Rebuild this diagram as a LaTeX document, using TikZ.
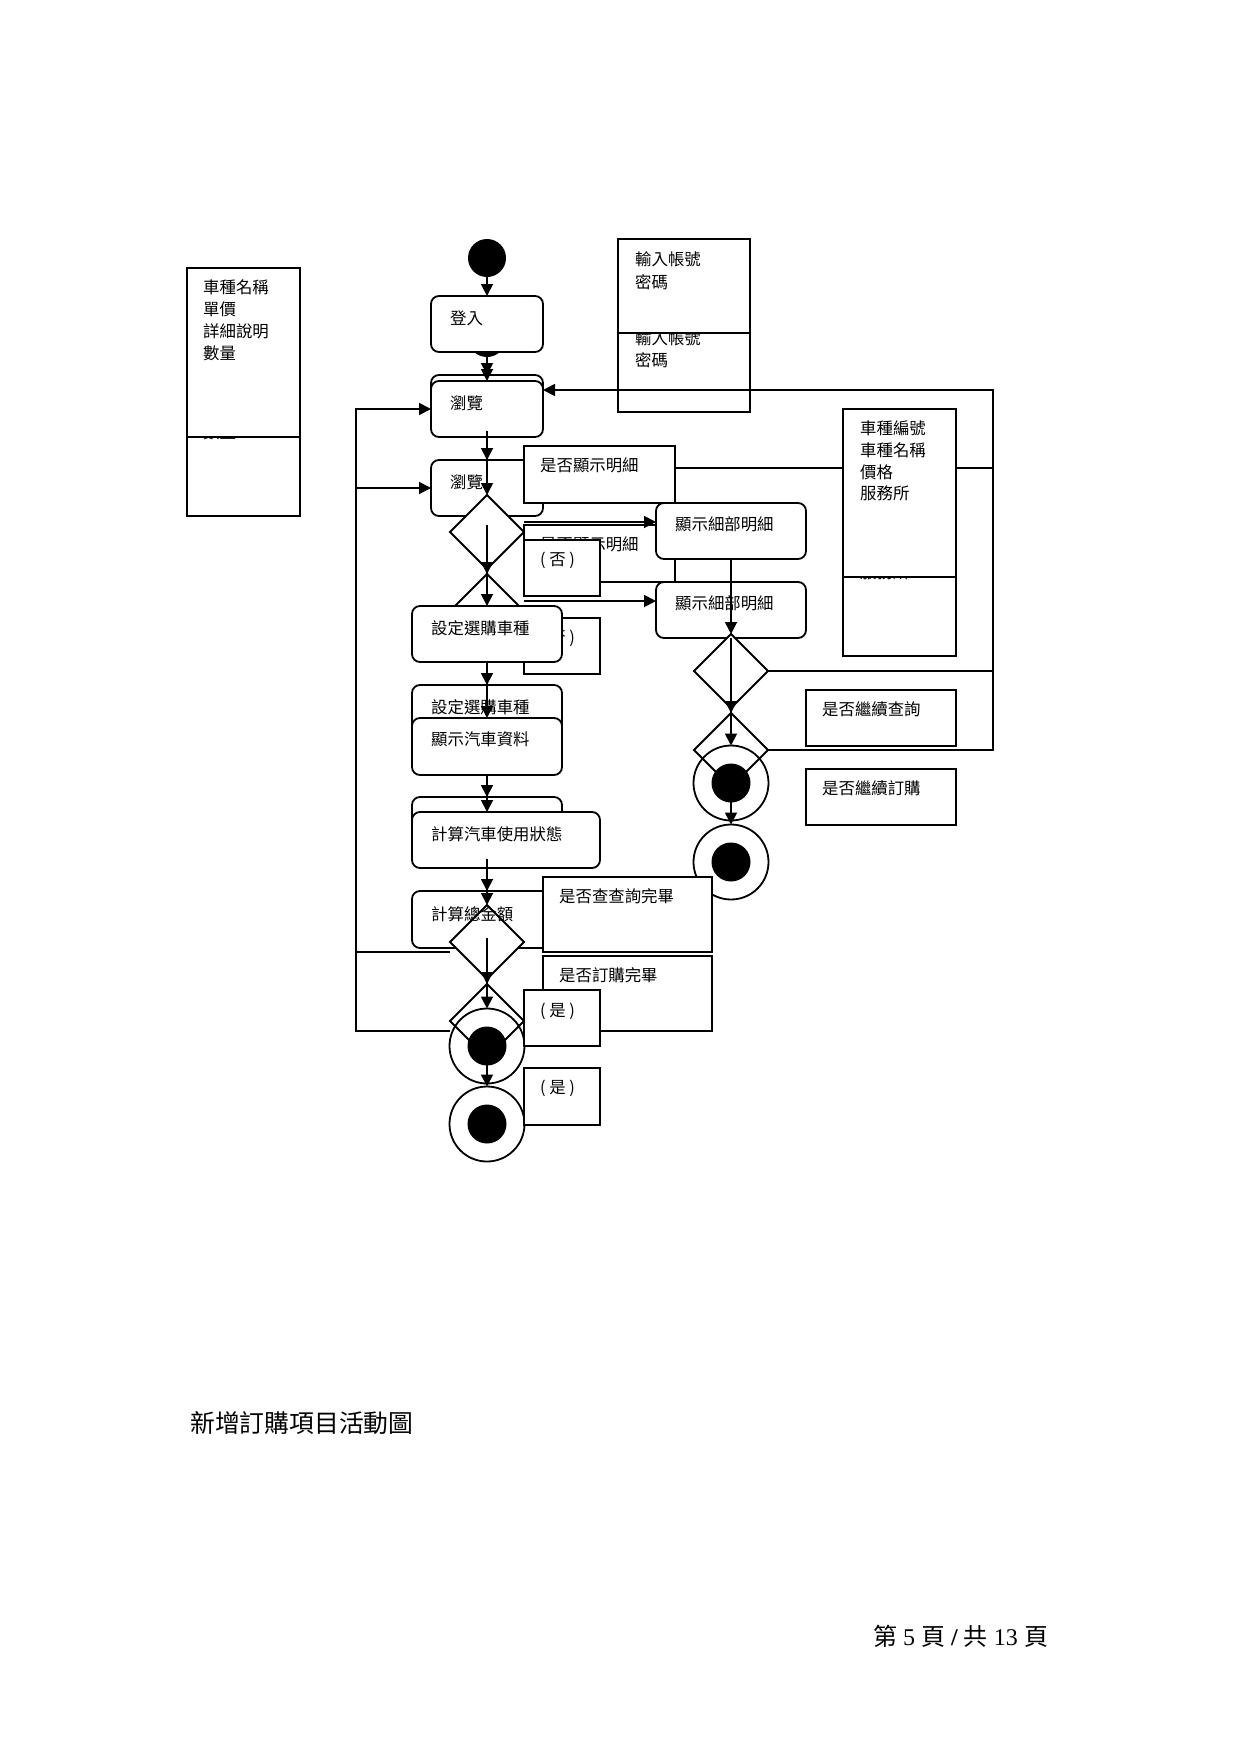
\documentclass[tikz,border=0pt]{standalone}
\usepackage{fontspec}
\setmainfont{Noto Sans CJK TC}
\newfontfamily\serif{Liberation Serif}
\usetikzlibrary{shapes.geometric,arrows.meta}
\begin{document}
\begin{tikzpicture}[x=1pt,y=-1pt,
  lw/.style={line width=1.8pt},
  act/.style={draw,lw,rounded corners=8pt,fill=white,inner sep=0pt,outer sep=0pt},
  obj/.style={draw,lw,fill=white,inner sep=0pt,outer sep=0pt},
  dec/.style={draw,lw,diamond,fill=white,minimum width=74pt,minimum height=74pt,inner sep=0pt,outer sep=0pt},
  ring/.style={draw,lw,circle,minimum size=75pt,inner sep=0pt,outer sep=0pt},
  dot/.style={circle,fill=black,minimum size=39pt,inner sep=0pt,outer sep=0pt},
  lbl/.style={anchor=west,inner sep=0pt,font=\fontsize{16.4pt}{20pt}\selectfont},
  arr/.style={lw,-{Triangle[length=12pt,width=12pt]}}
]
\useasboundingbox (0,0) rectangle (1240,1754);
\fill[white] (0,0) rectangle (1240,1754);

% account boxes
\node[obj,minimum width=132pt,minimum height=94pt] (acctB) at (684,365) {};
\node[lbl] (acctB1) at (635,338) {輸入帳號};
\node[lbl] (acctB2) at (635,360) {密碼};
\node[obj,minimum width=132pt,minimum height=94pt] (acctA) at (684,286) {};
\node[lbl] (acctA1) at (635,259) {輸入帳號};
\node[lbl] (acctA2) at (635,282) {密碼};

% named points for loops and arrows
\coordinate (lA) at (450,952);
\coordinate (lB) at (450,1031);
\coordinate (r1) at (543,390);
\coordinate (r2) at (543,468);
\coordinate (h1) at (524,522);
\coordinate (h2) at (524,601);
\coordinate (b2) at (487,525);
\coordinate (t1) at (487,859);
\coordinate (t2) at (487,938);
\coordinate (cE) at (768,671);
\coordinate (cD) at (768,750);

% loops
\draw[arr] (cE) -- (993,671) |- (r1);
\draw[arr] (cD) -- (993,750) |- (r2);
\draw[arr] (lA) -- (356,952) -- (356,409) -- (431,409);
\draw[arr] (lB) -- (356,1031) -- (356,488) -- (431,488);

% car info boxes
\node[obj,minimum width=113pt,minimum height=168pt] (carinfoB) at (899.5,572) {};
\node[lbl] (carinfoB4) at (860,572) {服務所};
\node[obj,minimum width=113pt,minimum height=168pt] (carinfoA) at (899.5,493) {};
\node[lbl] (ci1) at (860,428) {車種編號};
\node[lbl] (ci2) at (860,450) {車種名稱};
\node[lbl] (ci3) at (860,472) {價格};
\node[lbl] (ci4) at (860,493) {服務所};

% item boxes
\node[obj,minimum width=113pt,minimum height=169pt] (itemB) at (243.5,431.5) {};
\node[lbl] (itemB4) at (203,432) {數量};
\node[obj,minimum width=113pt,minimum height=169pt] (itemA) at (243.5,352.5) {};
\node[lbl] (it1) at (203,287) {車種名稱};
\node[lbl] (it2) at (203,309) {單價};
\node[lbl] (it3) at (203,331) {詳細說明};
\node[lbl] (it4) at (203,353) {數量};

% main column
\node[circle,fill=black,minimum size=38pt,inner sep=0pt,outer sep=0pt] (startB) at (487,338) {};
\node[act,minimum width=112pt,minimum height=56pt] (loginB) at (487,403) {};
\node[act,minimum width=112pt,minimum height=56pt] (loginA) at (487,324) {};
\node[lbl] (loginAt) at (450,318) {登入};
\node[act,minimum width=112pt,minimum height=56pt] (browseB) at (487,488) {};
\node[lbl] (browseBt) at (450,482) {瀏覽};
\node[act,minimum width=112pt,minimum height=56pt] (browseA) at (487,409) {};
\node[lbl] (browseAt) at (450,403) {瀏覽};

\node[obj,minimum width=151pt,minimum height=57pt] (showQB) at (599.5,553.5) {};
\node[lbl] (showQBt) at (540,544) {是否顯示明細};
\node[obj,minimum width=151pt,minimum height=57pt] (showQA) at (599.5,474.5) {};
\node[lbl] (showQAt) at (540,465) {是否顯示明細};

\node[dec] (dB) at (487,611) {};
\node[dec] (dA) at (487,532) {};

\node[obj,minimum width=76pt,minimum height=56pt] (noB) at (562,646) {};
\node[lbl] (noBt) at (540,638) {( 否 )};
\node[obj,minimum width=76pt,minimum height=56pt] (noA) at (562,568) {};
\node[lbl] (noAt) at (540,560) {( 否 )};

\node[act,minimum width=150pt,minimum height=56pt] (detB) at (731,610) {};
\node[lbl] (detBt) at (675,603) {顯示細部明細};
\node[act,minimum width=150pt,minimum height=56pt] (detA) at (731,531) {};
\node[lbl] (detAt) at (675,524) {顯示細部明細};

\node[act,minimum width=150pt,minimum height=56pt] (setB) at (487,713) {};
\node[lbl] (setBt) at (431,707) {設定選購車種};
\node[act,minimum width=150pt,minimum height=56pt] (setA) at (487,634) {};
\node[lbl] (setAt) at (431,628) {設定選購車種};

\node[act,minimum width=150pt,minimum height=56pt] (carB) at (487,825) {};
\node[act,minimum width=150pt,minimum height=57pt] (carA) at (487,746.5) {};
\node[lbl] (carAt) at (431,739) {顯示汽車資料};

\node[act,minimum width=150pt,minimum height=57pt] (total) at (487,919.5) {};
\node[act,minimum width=188pt,minimum height=56pt] (useA) at (506,840) {};
\node[lbl] (useAt) at (431,834) {計算汽車使用狀態};

% right column
\node[dec] (dC) at (731,671) {};
\node[dec] (dD) at (731,750) {};
\node[ring] (endE) at (731,783) {};
\node[dot] (endEi) at (731,783) {};
\node[ring,fill=white] (endF) at (731,862) {};
\node[dot] (endFi) at (731,862) {};

\node[obj,minimum width=150pt,minimum height=56pt] (contQ) at (881,718) {};
\node[lbl] (contQt) at (822,709) {是否繼續查詢};
\node[obj,minimum width=150pt,minimum height=56pt] (contO) at (881,797) {};
\node[lbl] (contOt) at (822,788) {是否繼續訂購};

\node[obj,minimum width=169pt,minimum height=75pt] (qdone) at (627.5,914.5) {};
\node[lbl] (qdonet) at (559,896) {是否查查詢完畢};
\node[obj,minimum width=169pt,minimum height=75pt] (odone) at (627.5,993.5) {};
\node[lbl] (odonet) at (559,975) {是否訂購完畢};

\node[dec] (dG) at (487,942) {};
\node[lbl] (totalt) at (431,914) {計算總金額};
\node[dec] (dH) at (487,1021) {};
\node[ring] (endI) at (487,1046) {};
\node[dot] (endIi) at (487,1046) {};
\node[ring,fill=white] (endJ) at (487,1124) {};
\node[dot] (endJi) at (487,1124) {};

\node[obj,minimum width=76pt,minimum height=56pt] (yesA) at (562,1018) {};
\node[lbl] (yesAt) at (540,1011) {( 是 )};
\node[obj,minimum width=76pt,minimum height=57pt] (yesB) at (562,1096.5) {};
\node[lbl] (yesBt) at (540,1088) {( 是 )};

\node[circle,fill=black,minimum size=38pt,inner sep=0pt,outer sep=0pt] (startA) at (487,258) {};

% arrows
\draw[arr] (startA.south) -- (loginA.north);
\draw[arr] (startB.south) -- (loginB.north);
\draw[arr] (loginA.south) -- (browseA.north);
\draw[arr] (loginB.south) -- (browseB.north);
\draw[arr] (browseA.south) -- (dA.north);
\draw[arr] (b2) -- (dB.north);
\draw[arr] (dA.south) -- (setA.north);
\draw[arr] (setA.south) -- (setB.north);
\draw[arr] (setA.south) -- (carA.north);
\draw[arr] (carA.south) -- (carB.north);
\draw[arr] (carA.south) -- (useA.north -| carA.south);
\draw[arr] (t1) -- (total.north);
\draw[arr] (useA.south -| t1) -- (dG.north);
\draw[arr] (t2) -- (dH.north);
\draw[arr] (dG.south) -- (endI.north);
\draw[arr] (dH.south) -- (endJ.north);
\draw[arr] (h1) -- (h1 -| detA.west);
\draw[arr] (h2) -- (h2 -| detB.west);
\draw[arr] (detA.south) -- (dC.north);
\draw[arr] (detB.south) -- (dD.north);
\draw[arr] (dC.south) -- (endE.north);
\draw[arr] (dD.south) -- (endF.north);

% caption and footer
\node[anchor=west,inner sep=0pt,font=\fontsize{24.8pt}{28pt}\selectfont] (title) at (190,1423) {新增訂購項目活動圖};
\node[anchor=west,inner sep=0pt,font=\fontsize{24pt}{28pt}\selectfont] (footer) at (873,1636) {第\hspace{6pt}{\serif 5}\hspace{6pt}頁\hspace{6pt}{\serif\bfseries /}\hspace{6pt}共\hspace{6pt}{\serif 13}\hspace{7pt}頁};
\end{tikzpicture}
\end{document}
